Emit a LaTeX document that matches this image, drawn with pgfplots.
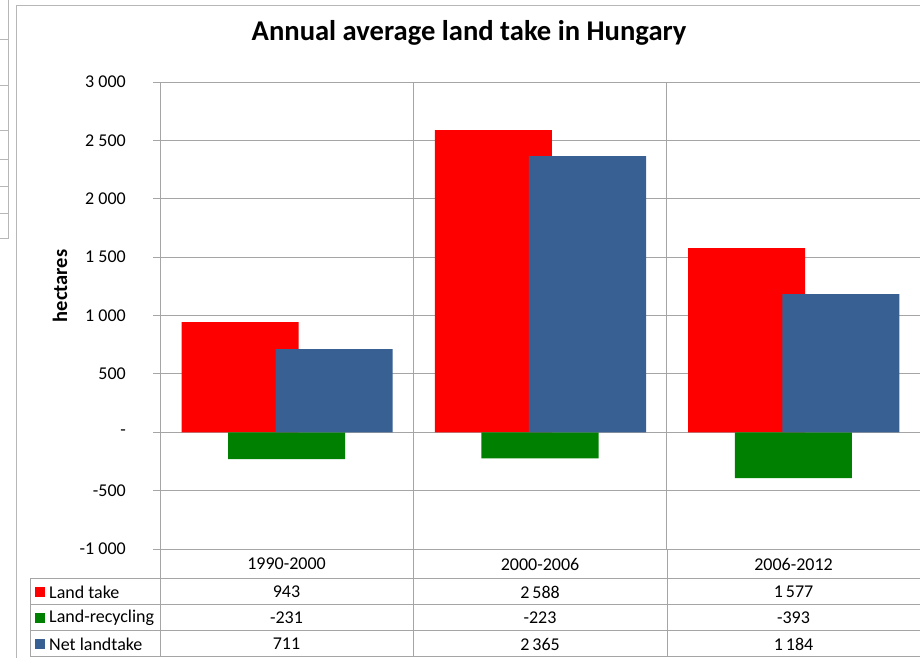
\documentclass[border=0pt]{standalone}
\usepackage{pgfplots}
\pgfplotsset{compat=1.18}
\usepackage{fontspec}
\setmainfont{Carlito}
\definecolor{lt}{RGB}{255,0,0}
\definecolor{lr}{RGB}{0,128,0}
\definecolor{nl}{RGB}{56,96,146}
\definecolor{gridc}{RGB}{165,165,165}
\newcommand{\tf}{\fontsize{18}{18}\selectfont}
\begin{document}
\begin{tikzpicture}[x=1pt,y=1pt]
\path[use as bounding box] (0,0) rectangle (920,657);
\begin{axis}[at={(160pt,108pt)}, anchor=south west, scale only axis,
  width=760pt, height=467pt,
  xmin=-0.5, xmax=2.5, ymin=-1000, ymax=3000,
  ytick={-1000,-500,...,3000},
  yticklabels={-1 000,-500,-,500,1 000,1 500,2 000,2 500,3 000},
  xtick={-0.5,0.5,1.5,2.5}, xticklabels={},
  xmajorgrids, ymajorgrids,
  grid style={gridc, line width=0.8pt},
  axis line style={gridc, line width=0.8pt},
  major tick length=7pt, tick align=outside,
  xtick style={draw=none}, ytick style={gridc, line width=0.8pt},
  yticklabel style={font=\tf, anchor=east, inner sep=0pt, xshift=-27pt},
  ybar, bar width=0.462,
]
\addplot[fill=lt, draw=none, bar shift=-0.184] coordinates {(0,943) (1,2588) (2,1577)};
\addplot[fill=lr, draw=none, bar shift=0] coordinates {(0,-231) (1,-223) (2,-393)};
\addplot[fill=nl, draw=none, bar shift=0.1875] coordinates {(0,711) (1,2365) (2,1184)};
\end{axis}
\begin{scope}[y=-1pt, shift={(0pt,657pt)}]
% chart frame and neighbouring sheet fragment
\draw[gridc!80, line width=1pt] (16,700) -- (16,6) -- (940,6);
\draw[gridc!80, line width=0.8pt] (8,-5) -- (8,238) -- (-5,238);
\foreach \yy in {39,85,130,159,186,213} \draw[gridc!80, line width=0.8pt] (-5,\yy) -- (8,\yy);
% title and y label
\node[font=\fontsize{28.6}{28.6}\selectfont\bfseries] at (469,33) {Annual average land take in Hungary};
\node[font=\fontsize{20.5}{20.5}\selectfont\bfseries, rotate=90] at (60,286) {hectares};
% data table
\begin{scope}[gridc, line width=0.8pt]
\foreach \yy in {578,604,630,656} \draw (30,\yy) -- (925,\yy);
\draw (30,578) -- (30,656);
\foreach \xx in {160,413,667} \draw (\xx,549) -- (\xx,656);
\end{scope}
\fill[lt] (35,587) rectangle (45,597);
\fill[lr] (35,613) rectangle (45,623);
\fill[nl] (35,639) rectangle (45,649);
\begin{scope}[font=\tf, inner sep=0pt]
\node[anchor=west] at (49,592) {Land take};
\node[anchor=west] at (49,618) {Land-recycling};
\node[anchor=west] at (49,644) {Net landtake};
\node at (286.5,564) {1990-2000};
\node at (540,564) {2000-2006};
\node at (793.5,564) {2006-2012};
\node at (286.5,592) {943};
\node at (540,592) {2\,588};
\node at (793.5,592) {1\,577};
\node at (286.5,618) {-231};
\node at (540,618) {-223};
\node at (793.5,618) {-393};
\node at (286.5,644) {711};
\node at (540,644) {2\,365};
\node at (793.5,644) {1\,184};
\end{scope}
\end{scope}
\end{tikzpicture}
\end{document}
